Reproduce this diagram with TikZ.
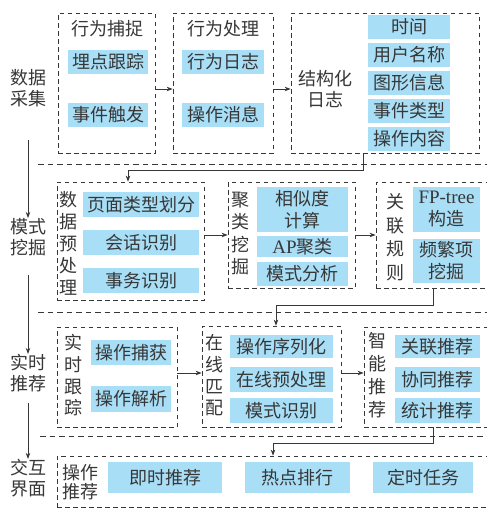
\documentclass[tikz,border=0pt]{standalone}
\usepackage{fontspec}
\setmainfont{Noto Sans CJK SC}
\newfontfamily\latn{Liberation Serif}
\usetikzlibrary{arrows.meta}
\definecolor{cellblue}{RGB}{168,222,246}
\definecolor{ink}{RGB}{55,55,55}
\begin{document}
\begin{tikzpicture}[x=1pt,y=-1pt,
  font=\fontsize{18}{21}\selectfont, text=ink,
  cell/.style={fill=cellblue, inner sep=0pt, align=center},
  grp/.style={draw=ink, dash pattern=on 4.5pt off 3.5pt, line width=0.8pt, inner sep=0pt},
  sepline/.style={draw=ink, dash pattern=on 5.5pt off 4pt, line width=0.8pt},
  arr/.style={draw=ink, line width=0.8pt, -{Stealth[length=6pt,width=4.5pt]}},
  vt/.style={align=center, inner sep=0pt},
]
\path[use as bounding box] (0,0) rectangle (487,509);
\clip (0,0) rectangle (487,509);
\fill[white] (0,0) rectangle (487,509);

% layer labels
\node[vt, font=\fontsize{18}{21}\selectfont] (L1) at (28,88) {数据\\采集};
\node[vt, font=\fontsize{18}{21}\selectfont] (L2) at (28,237) {模式\\挖掘};
\node[vt, font=\fontsize{18}{21}\selectfont] (L3) at (28,373) {实时\\推荐};
\node[vt, font=\fontsize{18}{21}\selectfont] (L4) at (28,478) {交互\\界面};
\draw[arr] (L1.center) ++(0,52) -- (L2.north);
\draw[arr] (L2.center) ++(0,38) -- (L3.north);
\draw[arr] (L3.center) ++(0,30) -- (L4.north);

% separators
\draw[sepline] (38,164) -- (487,164);
\draw[sepline] (38,312) -- (487,312);
\draw[sepline] (40,436) -- (487,436);

% ---------- row 1 ----------
\node[grp, minimum width=97pt, minimum height=140pt] (b1) at (106.5,83) {};
\node[vt] (t1) at (107,29) {行为捕捉};
\node[cell, minimum width=80pt, minimum height=24pt] (c11) at (108,62) {埋点跟踪};
\node[cell, minimum width=80pt, minimum height=24pt] (c12) at (108,115) {事件触发};

\node[grp, minimum width=100pt, minimum height=140pt] (b2) at (223,83) {};
\node[vt] (t2) at (223,29) {行为处理};
\node[cell, minimum width=82pt, minimum height=24pt] (c21) at (223,62) {行为日志};
\node[cell, minimum width=82pt, minimum height=24pt] (c22) at (223,115) {操作消息};

\node[grp, minimum width=188pt, minimum height=140pt] (b3) at (385,83) {};
\node[vt] (t3) at (325,89) {结构化\\日志};
\node[cell, minimum width=82pt, minimum height=24pt] (c31) at (409,27) {时间};
\node[cell, minimum width=82pt, minimum height=24pt] (c32) at (409,55) {用户名称};
\node[cell, minimum width=82pt, minimum height=24pt] (c33) at (409,83) {图形信息};
\node[cell, minimum width=82pt, minimum height=24pt] (c34) at (409,111) {事件类型};
\node[cell, minimum width=82pt, minimum height=24pt] (c35) at (409,139) {操作内容};

\draw[arr] ([yshift=-6pt]b1.east) -- ([yshift=-6pt]b2.west);
\draw[arr] ([yshift=-6pt]b2.east) -- ([yshift=-6pt]b3.west);

% ---------- row 2 ----------
\node[grp, minimum width=147pt, minimum height=118pt] (d1) at (130.5,241) {};
\node[vt, font=\fontsize{18}{22}\selectfont] (td1) at (68,243.5) {数\\据\\预\\处\\理};
\node[cell, minimum width=116pt, minimum height=25pt] (e11) at (141,204.5) {页面类型划分};
\node[cell, minimum width=116pt, minimum height=25pt] (e12) at (141,242.5) {会话识别};
\node[cell, minimum width=116pt, minimum height=25pt] (e13) at (141,280.5) {事务识别};

\node[grp, minimum width=127pt, minimum height=106pt] (d2) at (291.5,235) {};
\node[vt, font=\fontsize{18}{22.5}\selectfont] (td2) at (240,233.5) {聚\\类\\挖\\掘};
\node[cell, minimum width=91pt, minimum height=45pt, font=\fontsize{18}{22}\selectfont] (e21) at (302.5,209.5) {相似度\\计算};
\node[cell, minimum width=91pt, minimum height=21pt] (e22) at (302.5,246.5) {{\latn\fontsize{19}{21}\selectfont AP}聚类};
\node[cell, minimum width=91pt, minimum height=24pt] (e23) at (302.5,274) {模式分析};

\node[grp, minimum width=116pt, minimum height=106pt] (d3) at (434,235) {};
\node[vt, font=\fontsize{18}{23.5}\selectfont] (td3) at (395,237) {关\\联\\规\\则};
\node[cell, minimum width=67pt, minimum height=45pt, font=\fontsize{18}{22}\selectfont] (e31) at (446.5,209.5) {{\latn\fontsize{19}{22}\selectfont FP-tree}\\构造};
\node[cell, minimum width=67pt, minimum height=44pt, font=\fontsize{18}{22}\selectfont] (e32) at (446.5,261) {频繁项\\挖掘};

\draw[arr] (d1.east |- d2.west) -- (d2.west);
\draw[arr] (d2.east) -- (d3.west);
\draw[arr] ([xshift=-22pt]b3.south) -- ++(0,17) -| ([xshift=-2.5pt]d1.north);

% ---------- row 3 ----------
\node[grp, minimum width=120pt, minimum height=100pt] (g1) at (117,377) {};
\node[vt, font=\fontsize{18}{21.7}\selectfont] (tg1) at (73,375.5) {实\\时\\跟\\踪};
\node[cell, minimum width=80pt, minimum height=25pt] (h11) at (131,352.5) {操作捕获};
\node[cell, minimum width=80pt, minimum height=26pt] (h12) at (131,399) {操作解析};

\node[grp, minimum width=139pt, minimum height=101pt] (g2) at (271.5,376.5) {};
\node[vt, font=\fontsize{18}{21.7}\selectfont] (tg2) at (214,375.5) {在\\线\\匹\\配};
\node[cell, minimum width=103pt, minimum height=23pt] (h21) at (281.5,346.5) {操作序列化};
\node[cell, minimum width=103pt, minimum height=25pt] (h22) at (281.5,379.5) {在线预处理};
\node[cell, minimum width=103pt, minimum height=25pt] (h23) at (281.5,410.5) {模式识别};

\node[grp, minimum width=128pt, minimum height=100pt] (g3) at (428,377) {};
\node[vt, font=\fontsize{18}{23}\selectfont] (tg3) at (377,375) {智\\能\\推\\荐};
\node[cell, minimum width=85pt, minimum height=23pt] (h31) at (437.5,346.5) {关联推荐};
\node[cell, minimum width=85pt, minimum height=25pt] (h32) at (437.5,379.5) {协同推荐};
\node[cell, minimum width=85pt, minimum height=25pt] (h33) at (437.5,410.5) {统计推荐};

\draw[arr] ([yshift=4pt]g1.east) -- ([yshift=3.5pt]g2.west);
\draw[arr] ([yshift=3.5pt]g2.east) -- ([yshift=4pt]g3.west);
\draw[arr] ([xshift=-1pt]d3.south) -- ++(0,17) -| ([xshift=4.5pt]g2.north);

% ---------- row 4 ----------
\node[grp, minimum width=435pt, minimum height=51pt] (f) at (274.5,481.5) {};
\node[vt, font=\fontsize{18}{19}\selectfont] (tf) at (80,482.5) {操作\\推荐};
\node[cell, minimum width=114pt, minimum height=31pt] (k1) at (165,477.5) {即时推荐};
\node[cell, minimum width=105pt, minimum height=31pt] (k2) at (297.5,477.5) {热点排行};
\node[cell, minimum width=100pt, minimum height=31pt] (k3) at (423,477.5) {定时任务};

\draw[arr] ([xshift=5pt]g3.south) -- ++(0,16) -| ([xshift=-1.5pt]f.north);
\end{tikzpicture}
\end{document}
